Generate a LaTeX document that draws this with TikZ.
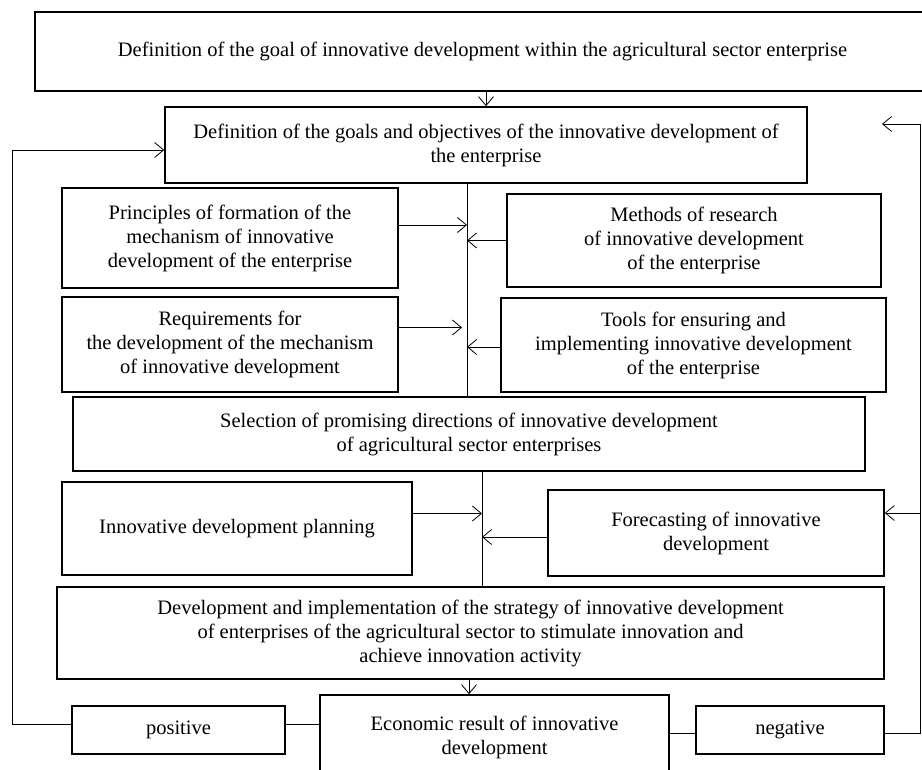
\documentclass[tikz,border=0pt]{standalone}
\usepackage{fontspec}
\setmainfont{Liberation Serif}
\usetikzlibrary{positioning}
\usetikzlibrary{calc}
\usetikzlibrary{arrows.meta}

\begin{document}
\begin{tikzpicture}[x=1pt, y=-1pt,
    box/.style={draw, line width=1.6pt, align=center, inner sep=0pt,
                font=\fontsize{20.5}{24}\selectfont},
    link/.style={line width=0.8pt},
    arr/.style={line width=0.8pt, -{Straight Barb[length=9pt, width=15pt]}}]
    \useasboundingbox (0,0) rectangle (922,770);

    % Goal and objectives
    \node[box, minimum width=895, minimum height=79] (goal) at (482.5,51.5)
        {Definition of the goal of innovative development within the agricultural sector enterprise};
    \node[box, minimum width=642, minimum height=76] (goals) at (486,145)
        {Definition of the goals and objectives of the innovative development of\\ the enterprise};

    % Principles, methods, requirements, tools
    \node[box, minimum width=336, minimum height=100] (principles) at (230,238)
        {Principles of formation of the\\ mechanism of innovative\\ development of the enterprise};
    \node[box, minimum width=374, minimum height=93] (methods) at (694,240.5)
        {Methods of research\\ of innovative development\\ of the enterprise};
    \node[box, minimum width=336, minimum height=95] (requirements) at (230,344.5)
        {Requirements for\\ the development of the mechanism\\ of innovative development};
    \node[box, minimum width=385, minimum height=94] (tools) at (693.5,345)
        {Tools for ensuring and\\ implementing innovative development\\ of the enterprise};

    % Selection, planning, forecasting
    \node[box, minimum width=792, minimum height=74] (selection) at (469,434)
        {Selection of promising directions of innovative development\\ of agricultural sector enterprises};
    \node[box, minimum width=350, minimum height=93] (planning) at (237,528.5)
        {Innovative development planning};
    \node[box, minimum width=336, minimum height=86] (forecasting) at (716,533)
        {Forecasting of innovative\\ development};

    % Strategy and result
    \node[box, minimum width=827, minimum height=92] (strategy) at (470.5,633)
        {Development and implementation of the strategy of innovative development\\ of enterprises of the agricultural sector to stimulate innovation and\\ achieve innovation activity};
    \node[box, minimum width=349, minimum height=85, text depth=4] (result) at (494.5,737.5)
        {Economic result of innovative\\ development};
    \node[box, minimum width=213, minimum height=48] (positive) at (178.5,730) {positive};
    \node[box, minimum width=188, minimum height=48] (negative) at (790,730) {negative};

    % Spines and feedback lines
    \coordinate (spine1) at (467,0);
    \coordinate (spine2) at (482,0);
    \coordinate (lft) at (12,0);
    \coordinate (rgt) at (920,0);
    \coordinate (fbtop) at (882,124);

    \draw[arr] (goals.north |- goal.south) -- (goals.north);
    \draw[link] (goals.south -| spine1) -- (selection.north -| spine1);
    \draw[arr] ([yshift=13]principles.east) -- ([yshift=13]principles.east -| spine1);
    \draw[arr] (methods.west) -- (methods.west -| spine1);
    \draw[arr] ([yshift=17]requirements.east) -- ([yshift=17,xshift=-5]requirements.east -| spine1);
    \draw[arr] ([yshift=-2]tools.west) -- ([yshift=-2]tools.west -| spine1);

    \draw[link] (selection.south -| spine2) -- (strategy.north -| spine2);
    \draw[arr] ([yshift=15]planning.east) -- ([yshift=15]planning.east -| spine2);
    \draw[arr] ([yshift=-4]forecasting.west) -- ([yshift=-4]forecasting.west -| spine2);

    \draw[arr] ([xshift=-1.5]strategy.south) -- ([xshift=-1.5]strategy.south |- result.north);
    \draw[link] ([yshift=6]positive.east) -- ([yshift=6]positive.east -| result.west);
    \draw[link] ([yshift=-3]result.east |- negative.east) -- ([yshift=-3]negative.west);

    \draw[arr] ([yshift=6]positive.west) -| ([yshift=-5]goals.west -| lft) -- ([yshift=-5]goals.west);
    \draw[link] ([yshift=-3]negative.east) -| (rgt |- fbtop);
    \draw[arr] (rgt |- fbtop) -- (fbtop);
    \draw[arr] ([yshift=20]forecasting.east -| rgt) -- ([yshift=20]forecasting.east);
\end{tikzpicture}
\end{document}
